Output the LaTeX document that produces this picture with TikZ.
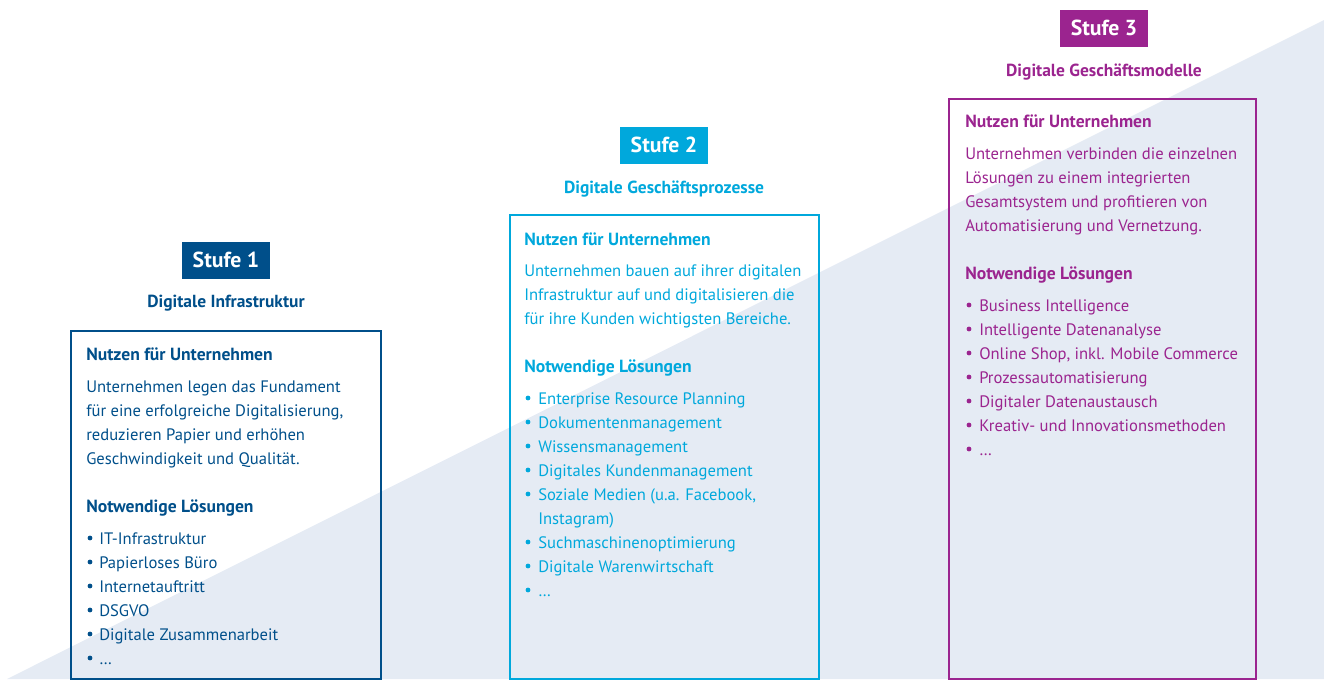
\documentclass[tikz,border=0pt]{standalone}
\usepackage{fontspec}
\setmainfont{PT Sans}
\begin{document}
\begin{tikzpicture}[x=0.75pt,y=-0.75pt,
  stufe/.style={fill=#1,text=white,font=\fontsize{16.3}{18}\selectfont\bfseries,minimum width=88*0.75pt,minimum height=37*0.75pt,inner sep=0pt},
  sub/.style={text=#1,font=\fontsize{13.1}{14}\selectfont\bfseries,inner sep=0pt,anchor=base},
  frame/.style={draw=#1,line width=1.9pt},
  head/.style={text=#1,font=\fontsize{13.2}{14}\selectfont\bfseries,inner sep=0pt,anchor=base west},
  body/.style={text=#1,font=\fontsize{12.45}{14}\selectfont,inner sep=0pt,anchor=base west},
  dot/.style={circle,fill=#1,inner sep=0pt,minimum size=3.6pt}]
\definecolor{cA}{HTML}{004F8A}
\definecolor{cB}{HTML}{00A8DC}
\definecolor{cC}{HTML}{9B248F}
\definecolor{tri}{HTML}{E5EBF4}
\useasboundingbox (0,0) rectangle (1324,682);
\fill[tri] (7,679) -- (1324,679) -- (1324,20) -- cycle;
% Stufe 1
\draw[frame=cA] (71,331) rectangle (381,679);
\node[stufe=cA] (s1) at (226,260) {Stufe 1};
\node[sub=cA] (d1) at (226,307) {Digitale Infrastruktur};
\node[head=cA] (h1a) at (86,360) {Nutzen für Unternehmen};
\foreach [count=\i] \t in {{Unternehmen legen das Fundament},{für eine erfolgreiche Digitalisierung,},{reduzieren Papier und erhöhen},{Geschwindigkeit und Qualität.}}
  \node[body=cA] (b1\i) at (86,{368+24*\i}) {\t};
\node[head=cA] (h1b) at (86,512) {Notwendige Lösungen};
\foreach [count=\i] \t in {IT-Infrastruktur,Papierloses Büro,Internetauftritt,DSGVO,Digitale Zusammenarbeit,\dots}{
  \node[dot=cA] (p1\i) at (90,{514+24*\i}) {};
  \node[body=cA] (l1\i) at (99,{520+24*\i}) {\t};}
% Stufe 2
\draw[frame=cB] (510,215) rectangle (819,679);
\node[stufe=cB] (s2) at (664,145) {Stufe 2};
\node[sub=cB] (d2) at (664,193) {Digitale Geschäftsprozesse};
\node[head=cB] (h2a) at (524,245) {Nutzen für Unternehmen};
\foreach [count=\i] \t in {{Unternehmen bauen auf ihrer digitalen},{Infrastruktur auf und digitalisieren die},{für ihre Kunden wichtigsten Bereiche.}}
  \node[body=cB] (b2\i) at (524,{252+24*\i}) {\t};
\node[head=cB] (h2b) at (524,372) {Notwendige Lösungen};
\foreach [count=\i] \t in {Enterprise Resource Planning,Dokumentenmanagement,Wissensmanagement,Digitales Kundenmanagement,{Soziale Medien (u.a. Facebook,}}{
  \node[dot=cB] (p2\i) at (528,{374+24*\i}) {};
  \node[body=cB] (l2\i) at (538,{380+24*\i}) {\t};}
\node[body=cB] (l2x) at (538,524) {Instagram)};
\foreach [count=\i] \t in {Suchmaschinenoptimierung,Digitale Warenwirtschaft,\dots}{
  \node[dot=cB] (q2\i) at (528,{518+24*\i}) {};
  \node[body=cB] (m2\i) at (538,{524+24*\i}) {\t};}
% Stufe 3
\draw[frame=cC] (949,99) rectangle (1256,679);
\node[stufe=cC] (s3) at (1104,28) {Stufe 3};
\node[sub=cC] (d3) at (1104,76) {Digitale Geschäftsmodelle};
\node[head=cC] (h3a) at (965,127) {Nutzen für Unternehmen};
\foreach [count=\i] \t in {{Unternehmen verbinden die einzelnen},{Lösungen zu einem integrierten},{Gesamtsystem und profitieren von},{Automatisierung und Vernetzung.}}
  \node[body=cC] (b3\i) at (965,{135+24*\i}) {\t};
\node[head=cC] (h3b) at (965,279) {Notwendige Lösungen};
\foreach [count=\i] \t in {Business Intelligence,Intelligente Datenanalyse,{Online Shop, inkl. Mobile Commerce},Prozessautomatisierung,Digitaler Datenaustausch,Kreativ- und Innovationsmethoden,\dots}{
  \node[dot=cC] (p3\i) at (969,{281+24*\i}) {};
  \node[body=cC] (l3\i) at (979,{287+24*\i}) {\t};}
\end{tikzpicture}
\end{document}
